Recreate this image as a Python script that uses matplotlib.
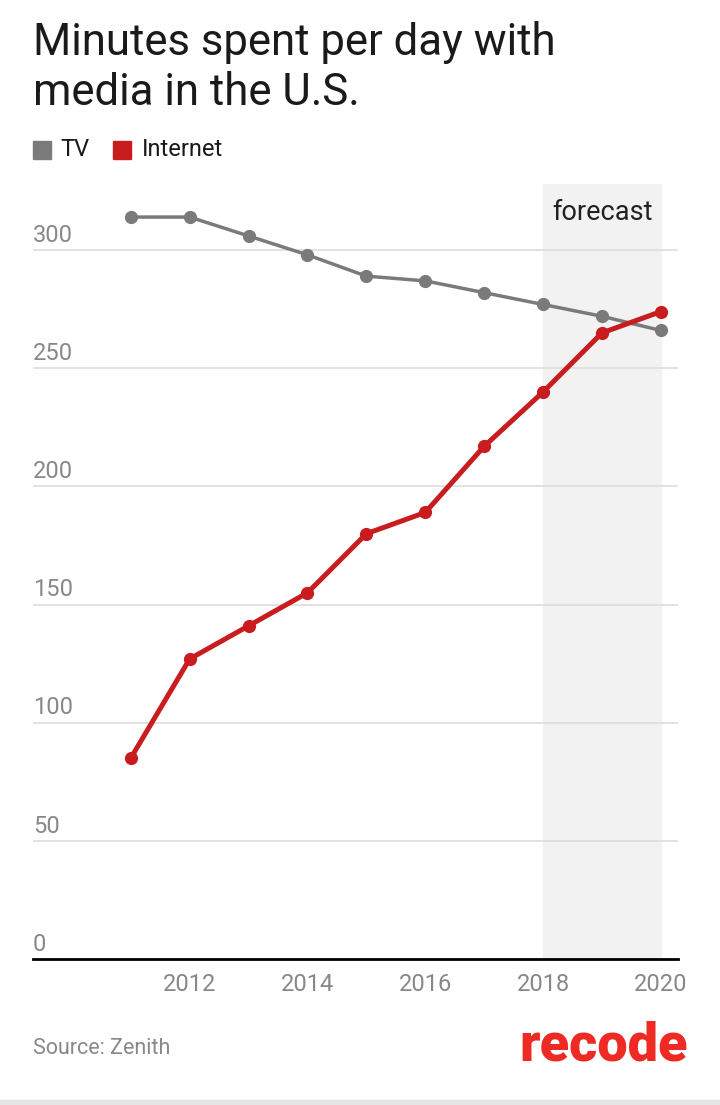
import matplotlib.pyplot as plt
import matplotlib.patches as mpatches

plt.rcParams['font.family'] = ['Roboto', 'DejaVu Sans']

years = [2011, 2012, 2013, 2014, 2015, 2016, 2017, 2018, 2019, 2020]
tv = [314, 314, 306, 298, 289, 287, 282, 277, 272, 266]
internet = [85, 127, 141, 155, 180, 189, 217, 240, 265, 274]
yticks = [0, 50, 100, 150, 200, 250, 300]
xticks = [2012, 2014, 2016, 2018, 2020]
forecast_start = 2018
forecast_end = 2020

tv_color = '#7a7a7a'
net_color = '#c91c1f'

fig = plt.figure(figsize=(7.2, 11.05), dpi=100)
ax = fig.add_axes([0.0458, 0.1321, 0.8959, 0.7014])

ax.axvspan(forecast_start, forecast_end, color='#f2f2f2', zorder=0)
ax.text((forecast_start + forecast_end) / 2, 316, 'forecast', ha='center', va='center',
        fontsize=19.5, color='#222222')

for v in yticks[1:]:
    ax.axhline(v, color='#dddddd', linewidth=1.2, zorder=1)
for v in yticks:
    ax.text(2009.34, v + 3.5, str(v), ha='left', va='baseline', fontsize=17, color='#888888')

ax.plot(years, tv, color=tv_color, linewidth=2.5, marker='o', markersize=8.5, zorder=3)
ax.plot(years, internet, color=net_color, linewidth=3.6, marker='o', markersize=8.5, zorder=4)

ax.set_xlim(2009.34, 2020.29)
ax.set_ylim(0, 328)
ax.set_yticks([])
ax.set_xticks(xticks)
ax.set_xticklabels([str(x) for x in xticks], fontsize=17, color='#888888')
ax.tick_params(axis='x', length=0, pad=10)
for s in ['top', 'right', 'left']:
    ax.spines[s].set_visible(False)
ax.spines['bottom'].set_linewidth(2)
ax.spines['bottom'].set_color('black')

fig.text(0.0458, 0.981, 'Minutes spent per day with\nmedia in the U.S.', ha='left', va='top',
         fontsize=31.5, color='#1a1a1a', linespacing=1.24)

# legend
fig.patches.append(mpatches.Rectangle((33 / 720, 1 - 159 / 1105), 18 / 720, 18 / 1105,
                                      transform=fig.transFigure, color=tv_color))
fig.text(60 / 720, 1 - 150 / 1105, 'TV', ha='left', va='center', fontsize=17, color='#1a1a1a')
fig.patches.append(mpatches.Rectangle((113 / 720, 1 - 159 / 1105), 18 / 720, 18 / 1105,
                                      transform=fig.transFigure, color=net_color))
fig.text(142 / 720, 1 - 150 / 1105, 'Internet', ha='left', va='center', fontsize=17, color='#1a1a1a')

fig.text(0.0458, 1 - 1048 / 1105, 'Source: Zenith', ha='left', va='center', fontsize=15.5,
         color='#888888')
fig.text(688 / 720, 1 - 1046 / 1105, 'recode', ha='right', va='center', fontsize=39,
         fontweight='black', color='#ee2a24')

fig.patches.append(mpatches.Rectangle((0, 0), 1, 5 / 1105, transform=fig.transFigure,
                                      color='#e6e6e6'))

fig.savefig('out.png', dpi=100)
